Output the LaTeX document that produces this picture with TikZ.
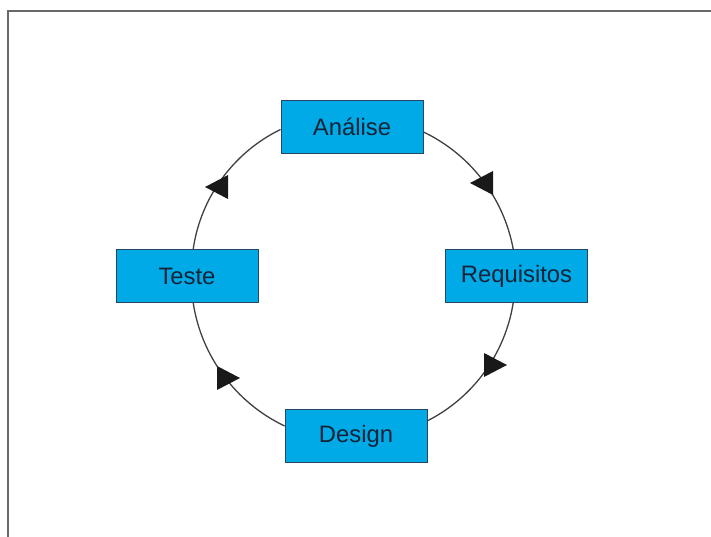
\documentclass[tikz,border=0pt]{standalone}
\usepackage{fontspec}
\setmainfont{Liberation Sans}
\usepackage{xcolor}
\definecolor{boxblue}{RGB}{0,170,230}
\definecolor{boxline}{RGB}{40,70,95}
\definecolor{boxtext}{RGB}{20,35,55}
\definecolor{framegray}{RGB}{105,105,105}

\begin{document}
\begin{tikzpicture}[x=1pt,y=1pt,thick,
    phase node/.style={rectangle,draw=boxline,line width=0.9pt,fill=boxblue,
      minimum width=142pt,minimum height=53pt,inner sep=0pt,
      text=boxtext,font=\fontsize{23.8}{28}\selectfont},
    cycle edge/.style={draw=black!75,line width=1.3pt,looseness=0.9}]

    \useasboundingbox (0,0) rectangle (711,537);
    \draw[framegray,line width=2pt] (8.3,0) -- (8.3,525.5) -- (711,525.5);

    \node[phase node] (analise) at (352,410) {Análise};
    \node[phase node] (requisitos) at (516.5,261) {Requisitos};
    \node[phase node] (design) at (356,101) {Design};
    \node[phase node] (teste) at (187,261) {Teste};

    \path[cycle edge]
        (analise.356) edge[bend left=27] (requisitos.97)
        (requisitos.263) edge[bend left=27] (design.12)
        (design.172) edge[bend left=28] (teste.283)
        (teste.77) edge[bend left=28] (analise.182)
        ;

    % arrowheads
    \foreach \x/\y/\d in {470/354/1, 507/172/-1, 240/159/-1, 205/350/1}
        \fill[black!90] (\x,\y) -- ++(\d*23,12) -- ++(0,-24) -- cycle;
\end{tikzpicture}
\end{document}
